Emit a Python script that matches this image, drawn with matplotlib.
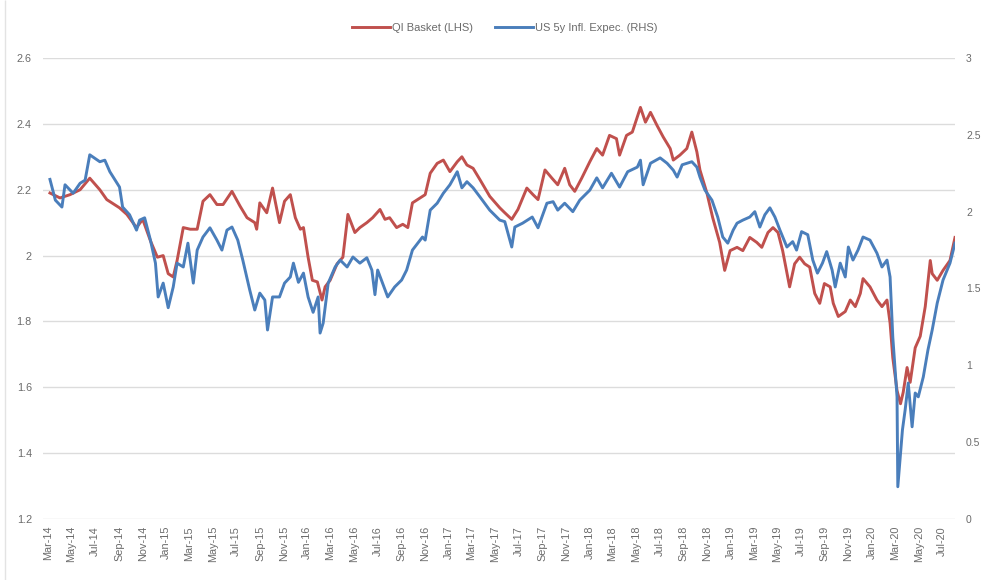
import matplotlib
matplotlib.use("Agg")
import matplotlib.pyplot as plt
import pandas as pd
from matplotlib.patches import Rectangle

# QI Basket (left axis)
qi_dates = [
    "2014-03-06", "2014-04-01", "2014-04-27", "2014-05-23", "2014-06-17", "2014-07-13", "2014-07-31",
    "2014-09-02", "2014-09-21", "2014-10-16", "2014-11-01", "2014-11-21", "2014-12-09", "2014-12-24",
    "2015-01-06", "2015-01-19", "2015-01-29", "2015-02-14", "2015-03-04", "2015-03-22", "2015-04-06",
    "2015-04-24", "2015-05-12", "2015-05-28", "2015-06-20", "2015-07-11", "2015-07-29", "2015-08-18",
    "2015-08-23", "2015-08-31", "2015-09-18", "2015-10-03", "2015-10-21", "2015-11-03", "2015-11-18",
    "2015-12-01", "2015-12-14", "2015-12-22", "2016-01-03", "2016-01-14", "2016-01-27", "2016-02-08",
    "2016-02-16", "2016-02-29", "2016-03-18", "2016-04-02", "2016-04-15", "2016-05-03", "2016-05-16",
    "2016-06-03", "2016-06-18", "2016-07-07", "2016-07-20", "2016-08-01", "2016-08-19", "2016-09-04",
    "2016-09-17", "2016-09-29", "2016-10-19", "2016-11-01", "2016-11-14", "2016-12-02", "2016-12-18",
    "2017-01-04", "2017-01-23", "2017-02-04", "2017-02-17", "2017-03-05", "2017-03-23", "2017-04-17",
    "2017-05-13", "2017-05-26", "2017-06-13", "2017-06-29", "2017-07-22", "2017-08-07", "2017-08-20",
    "2017-09-07", "2017-09-25", "2017-10-10", "2017-10-28", "2017-11-10", "2017-11-23", "2017-12-11",
    "2018-01-01", "2018-01-19", "2018-02-03", "2018-02-21", "2018-03-11", "2018-03-19", "2018-04-06",
    "2018-04-21", "2018-05-12", "2018-05-25", "2018-06-07", "2018-06-24", "2018-07-10", "2018-07-28",
    "2018-08-05", "2018-08-22", "2018-09-09", "2018-09-22", "2018-10-05", "2018-10-13", "2018-10-31",
    "2018-11-15", "2018-12-03", "2018-12-16", "2018-12-30", "2019-01-17", "2019-02-01", "2019-02-19",
    "2019-03-09", "2019-03-22", "2019-04-07", "2019-04-20", "2019-05-03", "2019-05-15", "2019-06-02",
    "2019-06-15", "2019-06-28", "2019-07-11", "2019-07-24", "2019-08-06", "2019-08-19", "2019-08-31",
    "2019-09-15", "2019-09-23", "2019-10-06", "2019-10-24", "2019-11-06", "2019-11-19", "2019-12-02",
    "2019-12-09", "2019-12-27", "2020-01-14", "2020-01-27", "2020-02-09", "2020-02-17", "2020-02-24",
    "2020-03-06", "2020-03-15", "2020-03-22", "2020-04-01", "2020-04-09", "2020-04-22", "2020-05-05",
    "2020-05-18", "2020-05-31", "2020-06-05", "2020-06-18", "2020-07-03", "2020-07-21", "2020-08-03",
]
qi_values = [
    2.19, 2.175, 2.185, 2.20, 2.235, 2.20, 2.17,
    2.145, 2.125, 2.085, 2.11, 2.045, 1.995, 2.00,
    1.945, 1.935, 1.985, 2.085, 2.08, 2.08, 2.165,
    2.185, 2.155, 2.155, 2.195, 2.15, 2.115, 2.10,
    2.08, 2.16, 2.13, 2.205, 2.10, 2.165, 2.185,
    2.115, 2.08, 2.085, 1.995, 1.925, 1.92, 1.865,
    1.905, 1.925, 1.975, 1.995, 2.125, 2.07, 2.085,
    2.10, 2.115, 2.14, 2.11, 2.115, 2.085, 2.095,
    2.085, 2.16, 2.175, 2.185, 2.25, 2.28, 2.29,
    2.255, 2.285, 2.30, 2.275, 2.265, 2.23, 2.18,
    2.145, 2.13, 2.11, 2.14, 2.205, 2.185, 2.17,
    2.26, 2.235, 2.215, 2.265, 2.215, 2.195, 2.235,
    2.285, 2.325, 2.305, 2.365, 2.355, 2.305, 2.365,
    2.375, 2.45, 2.405, 2.435, 2.395, 2.36, 2.325,
    2.29, 2.305, 2.325, 2.375, 2.315, 2.26, 2.19,
    2.115, 2.04, 1.955, 2.015, 2.025, 2.015, 2.055,
    2.04, 2.025, 2.07, 2.085, 2.07, 2.015, 1.905,
    1.975, 1.995, 1.975, 1.965, 1.885, 1.855, 1.915,
    1.905, 1.855, 1.815, 1.83, 1.865, 1.845, 1.885,
    1.93, 1.905, 1.865, 1.845, 1.865, 1.795, 1.69,
    1.59, 1.55, 1.585, 1.66, 1.615, 1.72, 1.755,
    1.845, 1.985, 1.945, 1.925, 1.955, 1.985, 2.055,
]

# US 5y inflation expectations (right axis)
infl_dates = [
    "2014-03-06", "2014-03-20", "2014-04-06", "2014-04-14", "2014-05-05", "2014-05-23", "2014-06-05",
    "2014-06-17", "2014-07-13", "2014-07-26", "2014-08-08", "2014-09-02", "2014-09-10", "2014-09-28",
    "2014-10-16", "2014-10-24", "2014-11-06", "2014-11-21", "2014-12-04", "2014-12-11", "2014-12-24",
    "2015-01-06", "2015-01-19", "2015-01-29", "2015-02-14", "2015-02-26", "2015-03-12", "2015-03-22",
    "2015-04-06", "2015-04-24", "2015-05-12", "2015-05-25", "2015-06-07", "2015-06-20", "2015-07-05",
    "2015-07-18", "2015-08-05", "2015-08-18", "2015-08-31", "2015-09-13", "2015-09-20", "2015-10-03",
    "2015-10-21", "2015-11-03", "2015-11-18", "2015-11-26", "2015-12-09", "2015-12-22", "2016-01-03",
    "2016-01-16", "2016-01-29", "2016-02-03", "2016-02-11", "2016-02-24", "2016-03-13", "2016-03-26",
    "2016-04-13", "2016-04-28", "2016-05-16", "2016-06-03", "2016-06-16", "2016-06-24", "2016-07-01",
    "2016-07-27", "2016-08-14", "2016-09-01", "2016-09-14", "2016-09-29", "2016-10-25", "2016-11-01",
    "2016-11-14", "2016-12-02", "2016-12-18", "2017-01-04", "2017-01-23", "2017-02-04", "2017-02-17",
    "2017-03-05", "2017-03-23", "2017-04-17", "2017-05-13", "2017-05-26", "2017-06-13", "2017-06-21",
    "2017-07-11", "2017-08-05", "2017-08-20", "2017-09-12", "2017-09-28", "2017-10-10", "2017-10-28",
    "2017-11-18", "2017-12-06", "2018-01-01", "2018-01-19", "2018-02-03", "2018-02-26", "2018-03-19",
    "2018-04-09", "2018-05-04", "2018-05-12", "2018-05-19", "2018-06-07", "2018-07-02", "2018-07-20",
    "2018-08-05", "2018-08-15", "2018-08-28", "2018-09-22", "2018-10-05", "2018-10-13", "2018-10-26",
    "2018-11-13", "2018-11-28", "2018-12-11", "2018-12-24", "2019-01-07", "2019-01-17", "2019-02-01",
    "2019-02-19", "2019-03-04", "2019-03-17", "2019-03-30", "2019-04-12", "2019-04-25", "2019-05-08",
    "2019-05-26", "2019-06-10", "2019-06-20", "2019-07-03", "2019-07-19", "2019-08-01", "2019-08-13",
    "2019-08-26", "2019-09-06", "2019-09-20", "2019-09-28", "2019-10-11", "2019-10-24", "2019-11-01",
    "2019-11-13", "2019-11-26", "2019-12-09", "2019-12-27", "2020-01-14", "2020-01-27", "2020-02-09",
    "2020-02-17", "2020-02-24", "2020-03-06", "2020-03-08", "2020-03-20", "2020-03-27", "2020-04-04",
    "2020-04-14", "2020-04-22", "2020-04-30", "2020-05-13", "2020-05-25", "2020-06-05", "2020-06-18",
    "2020-07-03", "2020-07-21", "2020-08-03",
]
infl_values = [
    2.21, 2.075, 2.03, 2.175, 2.12, 2.185, 2.205,
    2.37, 2.325, 2.335, 2.26, 2.16, 2.03, 1.98,
    1.88, 1.945, 1.96, 1.815, 1.665, 1.445, 1.535,
    1.375, 1.51, 1.665, 1.64, 1.795, 1.535, 1.75,
    1.835, 1.895, 1.815, 1.75, 1.88, 1.90, 1.815,
    1.685, 1.49, 1.36, 1.47, 1.425, 1.23, 1.445,
    1.445, 1.535, 1.575, 1.665, 1.54, 1.60, 1.445,
    1.345, 1.445, 1.21, 1.275, 1.535, 1.64, 1.685,
    1.64, 1.705, 1.665, 1.70, 1.62, 1.46, 1.62,
    1.445, 1.51, 1.555, 1.62, 1.75, 1.835, 1.815,
    2.01, 2.055, 2.12, 2.175, 2.26, 2.155, 2.195,
    2.155, 2.095, 2.01, 1.945, 1.935, 1.77, 1.90,
    1.925, 1.965, 1.895, 2.055, 2.065, 2.01, 2.055,
    2.00, 2.075, 2.14, 2.22, 2.155, 2.25, 2.16,
    2.26, 2.29, 2.335, 2.175, 2.315, 2.35, 2.315,
    2.27, 2.225, 2.305, 2.325, 2.29, 2.225, 2.14,
    2.075, 1.965, 1.835, 1.795, 1.88, 1.925, 1.945,
    1.965, 2.00, 1.90, 1.98, 2.025, 1.965, 1.88,
    1.77, 1.805, 1.75, 1.87, 1.85, 1.685, 1.60,
    1.665, 1.74, 1.62, 1.51, 1.665, 1.575, 1.77,
    1.685, 1.75, 1.835, 1.815, 1.73, 1.64, 1.685,
    1.575, 1.185, 0.795, 0.21, 0.58, 0.71, 0.885,
    0.60, 0.82, 0.795, 0.925, 1.10, 1.23, 1.405,
    1.555, 1.665, 1.795,
]

x_tick_labels = [
    "Mar-14", "May-14", "Jul-14", "Sep-14", "Nov-14",
    "Jan-15", "Mar-15", "May-15", "Jul-15", "Sep-15", "Nov-15",
    "Jan-16", "Mar-16", "May-16", "Jul-16", "Sep-16", "Nov-16",
    "Jan-17", "Mar-17", "May-17", "Jul-17", "Sep-17", "Nov-17",
    "Jan-18", "Mar-18", "May-18", "Jul-18", "Sep-18", "Nov-18",
    "Jan-19", "Mar-19", "May-19", "Jul-19", "Sep-19", "Nov-19",
    "Jan-20", "Mar-20", "May-20", "Jul-20",
]
left_ticks = [1.2, 1.4, 1.6, 1.8, 2.0, 2.2, 2.4, 2.6]
left_tick_labels = ["1.2", "1.4", "1.6", "1.8", "2", "2.2", "2.4", "2.6"]
right_ticks = [0, 0.5, 1, 1.5, 2, 2.5, 3]
right_tick_labels = ["0", "0.5", "1", "1.5", "2", "2.5", "3"]

RED = "#C0504D"
BLUE = "#4A7EBB"
TEXT = "#6b6b6b"
GRID = "#dcdcdc"

plt.rcParams["font.family"] = ["Liberation Sans", "DejaVu Sans"]

W, H = 981, 580
fig = plt.figure(figsize=(W / 100, H / 100), dpi=100)
fig.patch.set_facecolor("white")

ax = fig.add_axes([43 / W, 61 / H, 912 / W, 461 / H])
ax2 = ax.twinx()

qi_x = pd.to_datetime(qi_dates)
infl_x = pd.to_datetime(infl_dates)
l1, = ax.plot(qi_x, qi_values, color=RED, lw=2.1, solid_joinstyle="round",
              label="QI Basket (LHS)")
l2, = ax2.plot(infl_x, infl_values, color=BLUE, lw=2.1, solid_joinstyle="round",
               label="US 5y Infl. Expec. (RHS)")

ax.set_ylim(1.2, 2.6)
ax2.set_ylim(0, 3)
ax.set_xlim(pd.Timestamp("2014-02-16"), pd.Timestamp("2020-08-03"))

tick_dates = pd.to_datetime(x_tick_labels, format="%b-%y")
ax.set_xticks(tick_dates)
ax.set_xticklabels(x_tick_labels, rotation=90, fontsize=7.8, color=TEXT)

ax.set_yticks(left_ticks)
ax.set_yticklabels(left_tick_labels, fontsize=7.8, color=TEXT)
ax2.set_yticks(right_ticks)
ax2.set_yticklabels(right_tick_labels, fontsize=7.5, color=TEXT)

ax.yaxis.grid(True, color=GRID, lw=1.0)
ax.set_axisbelow(True)
for a in (ax, ax2):
    for s in a.spines.values():
        s.set_visible(False)
ax.tick_params(axis="both", length=0)
ax.tick_params(axis="y", pad=8)
ax.tick_params(axis="x", pad=5)
ax2.tick_params(axis="y", length=0, pad=8)

fig.legend([l1, l2], [l1.get_label(), l2.get_label()], loc="center",
           bbox_to_anchor=(505 / W, 1 - 28 / H), ncol=2, frameon=False,
           fontsize=8, handlelength=3.4, handletextpad=0.2, columnspacing=2.0,
           labelcolor=TEXT)

# faint chart-area border on the left
fig.add_artist(Rectangle((5 / W, 0), 0, 1, transform=fig.transFigure,
                         edgecolor="#e3e3e3", lw=1.0, fill=False))

fig.savefig("out.png", dpi=100)
